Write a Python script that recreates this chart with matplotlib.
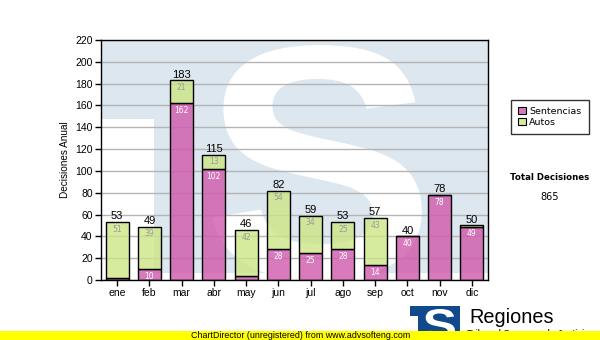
import matplotlib
matplotlib.use('Agg')
import matplotlib.pyplot as plt
import numpy as np
from matplotlib.patches import Rectangle, PathPatch, Patch
from matplotlib.textpath import TextPath
from matplotlib.font_manager import FontProperties
from matplotlib.transforms import Affine2D

meses = ['ene', 'feb', 'mar', 'abr', 'may', 'jun', 'jul', 'ago', 'sep', 'oct', 'nov', 'dic']
sentencias = [2, 10, 162, 102, 4, 28, 25, 28, 14, 40, 78, 49]
autos = [51, 39, 21, 13, 42, 54, 34, 25, 43, 0, 0, 1]
yticks = list(range(0, 221, 20))

rosa = (0.81, 0.35, 0.67, 0.80)
verde = (0.80, 0.90, 0.52, 0.80)
azul_fondo = '#dde7f0'

plt.rcParams['font.family'] = ['Liberation Sans', 'DejaVu Sans']


def ese(x0, x1, y0, y1, transform):
    # letra S rellena y estirada dentro de la caja indicada
    tp = TextPath((0, 0), 'S', size=1, prop=FontProperties(family='Liberation Sans', weight='bold'))
    ext = tp.get_extents()
    tr = (Affine2D().translate(-ext.x0, -ext.y0)
          .scale((x1 - x0) / ext.width, (y1 - y0) / ext.height)
          .translate(x0, y0) + transform)
    return PathPatch(tp, transform=tr, facecolor='white', edgecolor='none')


fig = plt.figure(figsize=(6, 3.4), dpi=100)
ax = fig.add_axes([101 / 600, 1 - 280 / 340, 387 / 600, 240 / 340])
ax.set_facecolor('white')

# logo de fondo: bloque azul claro con la "S" en blanco
ax.add_patch(Rectangle((0, 0.029), 1, 0.971, transform=ax.transAxes,
                       facecolor=azul_fondo, edgecolor='none', zorder=0.1))
ax.add_patch(Rectangle((0, 0.029), 0.137, 0.642, transform=ax.transAxes,
                       facecolor='white', edgecolor='none', zorder=0.2))
s_fondo = ese(0.287, 0.829, 0.0, 0.979, ax.transAxes)
s_fondo.set_zorder(0.3)
ax.add_patch(s_fondo)

x = np.arange(len(meses))
ax.bar(x, sentencias, width=0.71, color=rosa, edgecolor='black', linewidth=1, zorder=2)
ax.bar(x, autos, bottom=sentencias, width=0.71, color=verde, edgecolor='black', linewidth=1, zorder=2)

for i in range(len(meses)):
    s, a = sentencias[i], autos[i]
    if s >= 8:
        ax.annotate(str(s), (i, s), xytext=(0, -2), textcoords='offset points',
                    ha='center', va='top', fontsize=5.5, color='white',
                    family='DejaVu Sans', zorder=3)
    if a >= 8:
        ax.annotate(str(a), (i, s + a), xytext=(0, -2), textcoords='offset points',
                    ha='center', va='top', fontsize=5.5, color='#9a9a9a',
                    family='DejaVu Sans', zorder=3)
    ax.annotate(str(s + a), (i, s + a), xytext=(0, 0.5), textcoords='offset points',
                ha='center', va='bottom', fontsize=8, color='black', zorder=3)

ax.set_xlim(-0.5, len(meses) - 0.5)
ax.set_ylim(0, 220)
ax.set_yticks(yticks)
ax.set_xticks(x)
ax.set_xticklabels(meses)
ax.yaxis.grid(True, color='#b4b4b4', linewidth=1)
ax.set_axisbelow(True)
ax.tick_params(axis='both', direction='out', length=4, width=1, labelsize=7.5, pad=2)
for sp in ax.spines.values():
    sp.set_linewidth(1)
ax.set_ylabel('Decisiones Anual', fontsize=7.2, labelpad=4)

handles = [Patch(facecolor=rosa, edgecolor='black', linewidth=0.8),
           Patch(facecolor=verde, edgecolor='black', linewidth=0.8)]
leg = fig.legend(handles, ['Sentencias', 'Autos'], loc='upper left',
                 bbox_to_anchor=(511 / 600, 1 - 100 / 340),
                 prop={'family': 'DejaVu Sans', 'size': 6.8},
                 frameon=True, fancybox=False, edgecolor='black',
                 handlelength=0.8, handleheight=0.8, handletextpad=0.4,
                 labelspacing=0.15, borderpad=0.75, borderaxespad=0)
leg.get_frame().set_linewidth(1)

fig.text(550 / 600, 1 - 178 / 340, 'Total Decisiones', ha='center', va='center',
         fontsize=6.2, fontweight='bold', family='DejaVu Sans')
fig.text(550 / 600, 1 - 197 / 340, str(sum(sentencias) + sum(autos)), ha='center',
         va='center', fontsize=7, family='DejaVu Sans')

# logo inferior
fig.patches.append(Rectangle((410 / 600, 0), 50 / 600, 34 / 340, transform=fig.transFigure,
                             facecolor='#114a8c', edgecolor='none', zorder=1))
fig.patches.append(Rectangle((410 / 600, 0), 8 / 600, 24 / 340, transform=fig.transFigure,
                             facecolor='white', edgecolor='none', zorder=1.1))
s_logo = ese(424 / 600, 455 / 600, 0, 31 / 340, fig.transFigure)
s_logo.set_zorder(1.2)
fig.patches.append(s_logo)
fig.text(469 / 600, 1 - 323 / 340, 'Regiones', ha='left', va='baseline', fontsize=14.3)
fig.text(467 / 600, 1 - 329 / 340, 'Tribunal Supremo de Justicia', ha='left', va='top',
         fontsize=6.8)

# franja amarilla inferior
fig.patches.append(Rectangle((0, 0), 1, 9.5 / 340, transform=fig.transFigure,
                             facecolor='#ffff00', edgecolor='none', zorder=5))
fig.text(191 / 600, 1 - 335 / 340, 'ChartDirector (unregistered) from www.advsofteng.com',
         ha='left', va='center', fontsize=6.4, zorder=6)

fig.savefig('out.png', dpi=100)
